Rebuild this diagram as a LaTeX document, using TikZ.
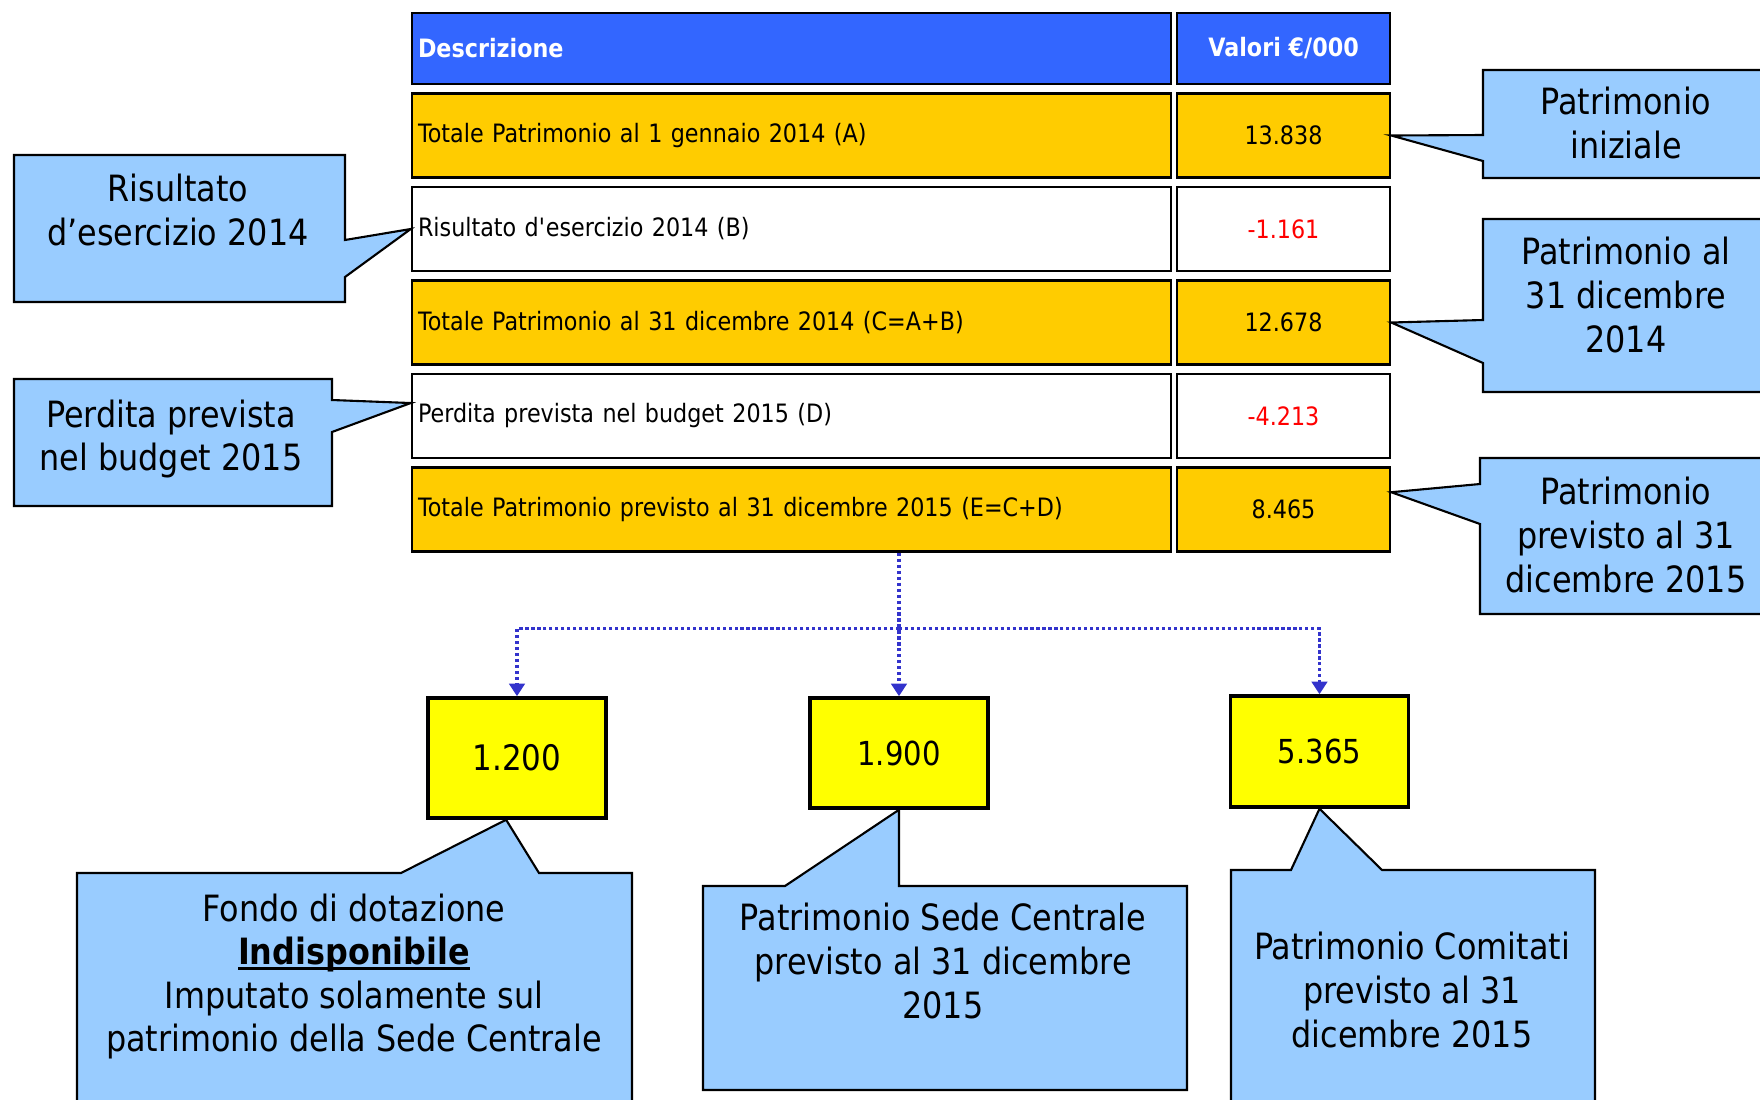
\documentclass[tikz,border=0pt]{standalone}
\usepackage{fontspec}
\setmainfont{DejaVu Sans}[FakeStretch=0.88]
\usepackage{tikz}
\definecolor{bleu}{HTML}{3366FF}
\definecolor{ocre}{HTML}{FFCC00}
\definecolor{ciel}{HTML}{99CCFF}
\definecolor{jaune}{HTML}{FFFF00}
\definecolor{indigo}{HTML}{3333CC}
\definecolor{rouge}{HTML}{FF0000}
\usetikzlibrary{calc,arrows.meta}
\tikzset{cell/.style={
    draw=black,
    line width=0.7pt,
    inner sep=0pt,
    minimum height=0.84cm,
    font=\fontsize{7.2}{8.6}\selectfont},
  desc/.style={cell,
    minimum width=7.59cm,
    text width=7.47cm,
    inner xsep=0.06cm,
    align=left},
  val/.style={cell,
    minimum width=2.13cm,
    align=center},
  bulle/.style={
    fill=ciel,
    draw=black,
    line width=0.6pt},
  legende/.style={
    align=center,
    inner sep=0pt,
    font=\fontsize{10.3}{12.4}\selectfont},
  boite/.style={
    fill=jaune,
    draw=black,
    line width=1pt,
    minimum width=1.78cm,
    inner sep=0pt},
  lien/.style={
    indigo,
    line width=0.9pt,
    dash pattern=on 0.9pt off 0.8pt,
    -{Triangle[width=4.4pt,length=3.6pt]}}}
\newcommand{\souligne}[1]{\setbox0\hbox{#1}\rlap{\rule[-1.5pt]{\wd0}{0.9pt}}\box0}

\begin{document}
\begin{tikzpicture}[x=1cm, y=-1cm]
\useasboundingbox (0,0) rectangle (17.6,10.99);

\coordinate (D) at (7.915,0.485);
\coordinate (V) at (12.835,0.485);
\node[desc,
  fill=bleu,
  text=white,
  minimum height=0.71cm] (h1) at (D) {\bfseries Descrizione};
\node[val,
  fill=bleu,
  text=white,
  minimum height=0.71cm] (h2) at (V) {\bfseries Valori €/000};

\coordinate (D) at (7.915,1.355);
\coordinate (V) at (12.835,1.355);
\node[desc, fill=ocre] (r1) at (D) {Totale Patrimonio al 1 gennaio 2014 (A)};
\node[val, fill=ocre] (v1) at (V) {13.838};

\coordinate (D) at ($(D) + (0,0.935)$);
\coordinate (V) at ($(V) + (0,0.935)$);
\node[desc, fill=white] (r2) at (D) {Risultato d\textquotesingle esercizio 2014 (B)};
\node[val, fill=white, text=rouge] (v2) at (V) {-1.161};

\coordinate (D) at ($(D) + (0,0.935)$);
\coordinate (V) at ($(V) + (0,0.935)$);
\node[desc, fill=ocre] (r3) at (D) {Totale Patrimonio al 31 dicembre 2014 (C=A+B)};
\node[val, fill=ocre] (v3) at (V) {12.678};

\coordinate (D) at ($(D) + (0,0.935)$);
\coordinate (V) at ($(V) + (0,0.935)$);
\node[desc, fill=white] (r4) at (D) {Perdita prevista nel budget 2015 (D)};
\node[val, fill=white, text=rouge] (v4) at (V) {-4.213};

\coordinate (D) at ($(D) + (0,0.935)$);
\coordinate (V) at ($(V) + (0,0.935)$);
\node[desc, fill=ocre] (r5) at (D) {Totale Patrimonio previsto al 31 dicembre 2015 (E=C+D)};
\node[val, fill=ocre] (v5) at (V) {8.465};

\filldraw[bulle] (0.14,1.55) -- (3.45,1.55) -- (3.45,2.40) -- (r2.west)
  -- (3.45,2.77) -- (3.45,3.02) -- (0.14,3.02) -- cycle;
\node[legende] (l1) at (1.78,2.10) {Risultato\\d’esercizio 2014};

\filldraw[bulle] (0.14,3.79) -- (3.32,3.79) -- (3.32,4.00)
  -- ($(r4.north west)!0.35!(r4.south west)$)
  -- (3.32,4.32) -- (3.32,5.06) -- (0.14,5.06) -- cycle;
\node[legende] (l2) at (1.71,4.39) {Perdita prevista\\nel budget 2015};

\filldraw[bulle] (14.83,0.70) -- (17.75,0.70) -- (17.75,1.78) -- (14.83,1.78)
  -- (14.83,1.61) -- (v1.east) -- (14.83,1.35) -- cycle;
\node[legende] (l3) at (16.26,1.23) {Patrimonio\\iniziale};

\filldraw[bulle] (14.83,2.19) -- (17.75,2.19) -- (17.75,3.92) -- (14.83,3.92)
  -- (14.83,3.63) -- (v3.east) -- (14.83,3.20) -- cycle;
\node[legende] (l4) at (16.26,2.95) {Patrimonio al\\31 dicembre\\2014};

\filldraw[bulle] (14.80,4.58) -- (17.75,4.58) -- (17.75,6.14) -- (14.80,6.14)
  -- (14.80,5.24) -- ($(v5.north east)!0.3!(v5.south east)$) -- (14.80,4.84) -- cycle;
\node[legende] (l5) at (16.26,5.35) {Patrimonio\\previsto al 31\\dicembre 2015};

\node[boite,
  minimum height=1.20cm,
  font=\fontsize{10}{12}\selectfont] (y1) at (5.17,7.58) {1.200};
\node[boite,
  minimum height=1.10cm,
  font=\fontsize{9.4}{11}\selectfont] (y2) at (8.99,7.53) {1.900};
\node[boite,
  minimum height=1.11cm,
  font=\fontsize{9.4}{11}\selectfont] (y3) at (13.195,7.515) {5.365};

\coordinate (fork) at ($(r5.south -| y2.north) + (0,0.76)$);
\draw[lien] (r5.south -| y2.north) -- (y2.north);
\draw[lien] (fork) -| (y1.north);
\draw[lien] (fork) -| (y3.north);

\filldraw[bulle] (0.77,11.2) -- (0.77,8.73) -- (4.01,8.73)
  -- ($(y1.south west)!0.44!(y1.south east)$)
  -- (5.39,8.73) -- (6.32,8.73) -- (6.32,11.2) -- cycle;
\node[legende] (l6) at (3.54,9.765) {Fondo di dotazione\\\souligne{\textbf{Indisponibile}}\\Imputato solamente sul\\patrimonio della Sede Centrale};

\coordinate (c2) at (7.03,8.86);
\filldraw[bulle] (c2) -- (7.85,8.86) -- (y2.south) -- (y2.south |- c2)
  -- (11.87,8.86) -- (11.87,10.90) -- (7.03,10.90) -- cycle;
\node[legende] (l7) at (9.43,9.61) {Patrimonio Sede Centrale\\previsto al 31 dicembre\\2015};

\filldraw[bulle] (12.31,11.2) -- (12.31,8.70) -- (12.91,8.70) -- (y3.south)
  -- (13.82,8.70) -- (15.95,8.70) -- (15.95,11.2) -- cycle;
\node[legende] (l8) at (14.12,9.90) {Patrimonio Comitati\\previsto al 31\\dicembre 2015};

\end{tikzpicture}
\end{document}
